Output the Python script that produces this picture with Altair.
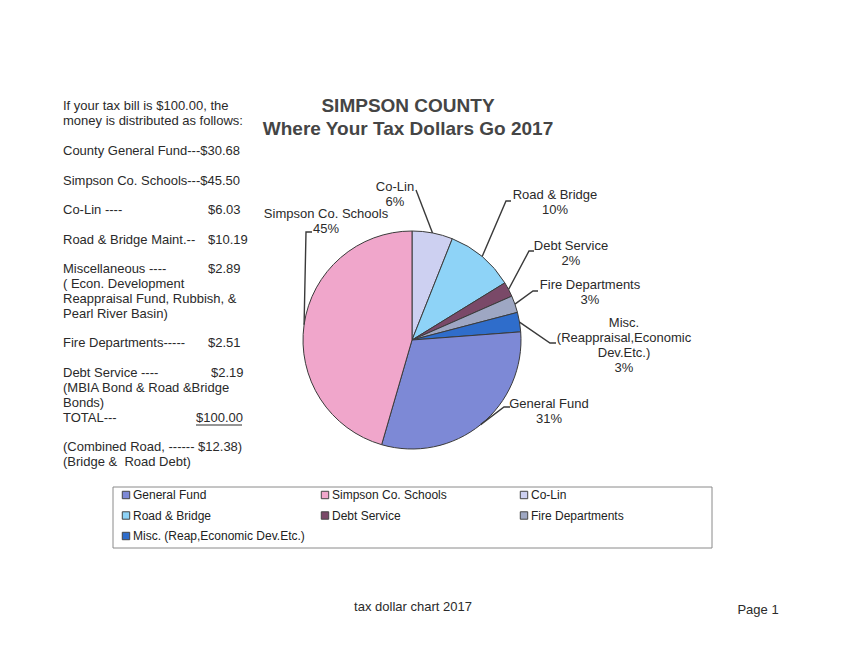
import math
import altair as alt
import pandas as pd

W, H = 845, 653
FONT = "Liberation Sans"

# ---------------- data ----------------
slices = ["Co-Lin", "Road & Bridge", "Debt Service", "Fire Departments",
          "Misc.", "General Fund", "Simpson Co. Schools"]
values = [6.03, 10.19, 2.19, 2.51, 2.89, 30.68, 45.50]
legend_names = ["Co-Lin", "Road & Bridge", "Debt Service", "Fire Departments",
                "Misc. (Reap,Economic Dev.Etc.)", "General Fund", "Simpson Co. Schools"]
pct_labels = ["6%", "10%", "2%", "3%", "3%", "31%", "45%"]
label_lines = [["Co-Lin"], ["Road & Bridge"], ["Debt Service"], ["Fire Departments"],
               ["Misc.", "(Reappraisal,Economic", "Dev.Etc.)"], ["General Fund"],
               ["Simpson Co. Schools"]]
legend_order = ["General Fund", "Simpson Co. Schools", "Co-Lin", "Road & Bridge",
                "Debt Service", "Fire Departments", "Misc. (Reap,Economic Dev.Etc.)"]
legend_colors = ["#7d89d6", "#f0a6cb", "#cdd0f1", "#8ed3f7",
                 "#7a4968", "#9ea7c3", "#2f6dcb"]

left_lines = ["If your tax bill is $100.00, the", "money is distributed as follows:",
              "County General Fund---$30.68", "Simpson Co. Schools---$45.50",
              "Co-Lin  ----", "Road & Bridge Maint.--", "Miscellaneous ----",
              "( Econ. Development", "Reappraisal Fund, Rubbish, &", "Pearl River Basin)",
              "Fire Departments-----", "Debt Service ----", "(MBIA Bond & Road &Bridge",
              "Bonds)", "TOTAL---", "(Combined Road, ------ $12.38)",
              "(Bridge &\u00a0 Road Debt)"]
amounts = ["$6.03", "$10.19", "$2.89", "$2.51", "$2.19", "$100.00"]

title_lines = ["SIMPSON COUNTY", "Where Your Tax Dollars Go 2017"]
footer_text = "tax dollar chart 2017"
page_text = "Page 1"

# ---------------- layout ----------------
CX, CY, R = 412, 340, 109
left_x = 63
left_y = [106, 121, 151, 181, 210, 240, 269, 284, 299, 314, 343, 373, 388, 403, 418, 447, 462]
amount_pos = [(208, 210), (208, 240), (208, 269), (208, 343), (211, 373), (196, 418)]
label_anchor = [(395, 187), (555, 195), (571, 246), (590, 285), (624, 323), (549, 404), (326, 214)]
line_h = 15
leader_pts = [[(416, 190)], [(506, 201), (511, 201)], [(529, 251), (534, 251)],
              [(533, 291), (538, 291)], [(550, 343), (556, 343)],
              [(504, 407), (510, 407)], [(306, 232), (312, 232)]]
legend_box = (113, 487, 712, 548)

# ---------------- tables ----------------
pie_df = pd.DataFrame({"slice": slices, "legend": legend_names, "value": values,
                       "idx": list(range(len(slices)))})

total = sum(values)
rows = []
cum = 0.0
for i, v in enumerate(values):
    mid = (cum + v / 2) / total * 2 * math.pi
    cum += v
    ex = CX + R * math.sin(mid)
    ey = CY - R * math.cos(mid)
    pts = [(ex, ey)] + leader_pts[i]
    for k, (px, py) in enumerate(pts):
        rows.append({"slice": slices[i], "k": k, "x": px, "y": py})
leader_df = pd.DataFrame(rows)

lab_rows = []
for i, lines in enumerate(label_lines):
    ax, ay = label_anchor[i]
    for j, t in enumerate(lines + [pct_labels[i]]):
        lab_rows.append({"text": t, "x": ax, "y": ay + j * line_h})
lab_df = pd.DataFrame(lab_rows)

left_df = pd.DataFrame({"text": left_lines, "x": [left_x] * len(left_lines), "y": left_y})
amt_df = pd.DataFrame({"text": amounts, "x": [p[0] for p in amount_pos],
                       "y": [p[1] for p in amount_pos]})
title_df = pd.DataFrame({"text": title_lines, "x": [408, 408], "y": [106, 129]})
foot_df = pd.DataFrame({"text": [footer_text, page_text], "x": [413, 758], "y": [607, 610]})
underline_df = pd.DataFrame({"x": [196], "x2": [242], "y": [425]})
box_df = pd.DataFrame({"x": [legend_box[0]], "y": [legend_box[1]],
                       "x2": [legend_box[2]], "y2": [legend_box[3]]})

xs = alt.Scale(domain=[0, W], nice=False, zero=False)
ys = alt.Scale(domain=[0, H], nice=False, zero=False, reverse=True)
X = lambda f="x": alt.X(f"{f}:Q", scale=xs, axis=None)
Y = lambda f="y": alt.Y(f"{f}:Q", scale=ys, axis=None)

box = alt.Chart(box_df).mark_rect(fill="white", stroke="#8a8a8a", strokeWidth=1).encode(
    x=X(), y=Y(), x2="x2:Q", y2="y2:Q")

pie = alt.Chart(pie_df).mark_arc(outerRadius=R, stroke="#3b3b3b", strokeWidth=1).encode(
    theta=alt.Theta("value:Q", stack=True),
    order=alt.Order("idx:Q"),
    color=alt.Color("legend:N",
                    scale=alt.Scale(domain=legend_order, range=legend_colors),
                    legend=alt.Legend(orient="none", legendX=113, legendY=482, title=None,
                                      direction="horizontal",
                                      columns=3, gridAlign="all", columnPadding=14,
                                      rowPadding=8.5, padding=7,
                                      symbolType="square",
                                      symbolSize=55, symbolStrokeColor="#444",
                                      symbolStrokeWidth=1, labelFont=FONT,
                                      labelFontSize=12, labelColor="#222",
                                      labelOffset=1, labelLimit=300)),
    x=alt.value(CX), y=alt.value(CY),
)

leaders = alt.Chart(leader_df).mark_line(color="#3a3a3a", strokeWidth=1.4).encode(
    x=X(), y=Y(), detail="slice:N", order="k:Q")

labels = alt.Chart(lab_df).mark_text(font=FONT, fontSize=13, color="#2a2a2a",
                                     align="center", baseline="middle").encode(
    x=X(), y=Y(), text="text:N")

left = alt.Chart(left_df).mark_text(font=FONT, fontSize=13, color="#2a2a2a",
                                    align="left", baseline="middle").encode(
    x=X(), y=Y(), text="text:N")
amt = alt.Chart(amt_df).mark_text(font=FONT, fontSize=13, color="#2a2a2a",
                                  align="left", baseline="middle").encode(
    x=X(), y=Y(), text="text:N")
underline = alt.Chart(underline_df).mark_rule(color="#2a2a2a", strokeWidth=1).encode(
    x=X(), x2="x2:Q", y=Y())

title = alt.Chart(title_df).mark_text(font=FONT, fontSize=19, fontWeight="bold",
                                      color="#454545", align="center",
                                      baseline="middle").encode(
    x=X(), y=Y(), text="text:N")
foot = alt.Chart(foot_df).mark_text(font=FONT, fontSize=13, color="#2a2a2a",
                                    align="center", baseline="middle").encode(
    x=X(), y=Y(), text="text:N")

chart = alt.layer(box, pie, leaders, labels, left, amt, underline, title, foot).properties(
    width=W, height=H, padding=0, background="white",
    autosize=alt.AutoSizeParams(type="none"),
).configure_view(stroke=None)

chart.save("out.html", embed_options={"renderer": "svg", "actions": False})
